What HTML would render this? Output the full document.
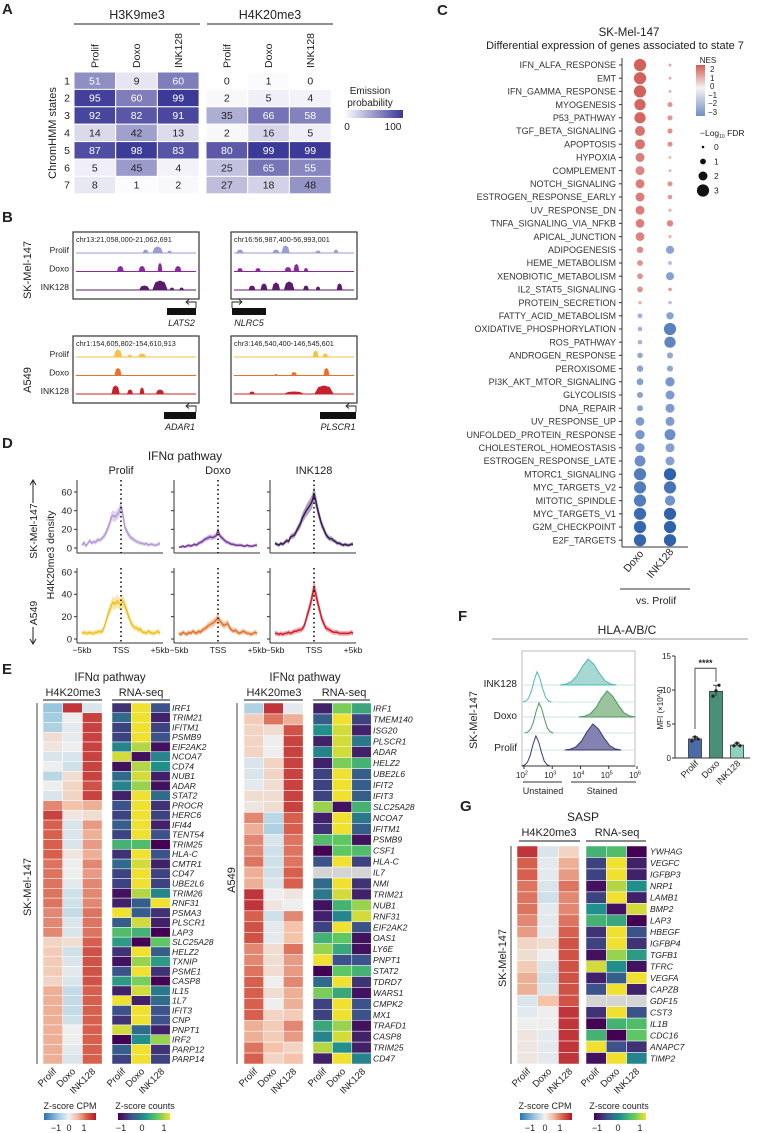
<!DOCTYPE html>
<html><head><meta charset="utf-8">
<style>
body{margin:0;background:#fff}
svg{display:block;font-family:"Liberation Sans",Arial,sans-serif;fill:#222}
</style></head>
<body>
<svg id="fig" width="776" height="1133" viewBox="0 0 776 1133" xmlns="http://www.w3.org/2000/svg">
<defs>
<linearGradient id="gPurple"><stop offset="0" stop-color="#ffffff"/><stop offset="1" stop-color="#3a3896"/></linearGradient>
<linearGradient id="gNes" x1="0" y1="0" x2="0" y2="1"><stop offset="0" stop-color="#d45a55"/><stop offset="0.45" stop-color="#f5f2f2"/><stop offset="1" stop-color="#6f8fc6"/></linearGradient>
<linearGradient id="gRdBu"><stop offset="0" stop-color="#2a73b6"/><stop offset="0.3" stop-color="#a6cfe4"/><stop offset="0.48" stop-color="#f2f2f2"/><stop offset="0.65" stop-color="#f3b79d"/><stop offset="0.82" stop-color="#d6604d"/><stop offset="1" stop-color="#b2182b"/></linearGradient>
<linearGradient id="gVir"><stop offset="0" stop-color="#440154"/><stop offset="0.25" stop-color="#3b528b"/><stop offset="0.5" stop-color="#21908c"/><stop offset="0.75" stop-color="#5dc863"/><stop offset="1" stop-color="#f0e030"/></linearGradient>
</defs>

<!-- Panel A -->
<g font-size="10">
<text x="2" y="14" font-size="15" font-weight="bold">A</text>
<text x="137" y="19" font-size="12.5" text-anchor="middle">H3K9me3</text>
<line x1="74" y1="24" x2="200" y2="24" stroke="#222"/>
<text x="270" y="19" font-size="12.5" text-anchor="middle">H4K20me3</text>
<line x1="207" y1="24" x2="333" y2="24" stroke="#222"/>
<text transform="translate(56,133) rotate(-90)" text-anchor="middle" font-size="11">ChromHMM states</text>
<text x="370" y="94" text-anchor="middle">Emission</text>
<text x="370" y="106" text-anchor="middle">probability</text>
<rect x="344" y="110" width="59" height="8" fill="url(#gPurple)"/>
<text x="347" y="130" text-anchor="middle">0</text>
<text x="393" y="130" text-anchor="middle">100</text>
<g id="gA"></g>
</g>

<!-- Panel B -->
<g>
<text x="2" y="222" font-size="15" font-weight="bold">B</text>
<text transform="translate(31,270) rotate(-90)" text-anchor="middle" font-size="11">SK-Mel-147</text>
<text transform="translate(31,380) rotate(-90)" text-anchor="middle" font-size="11">A549</text>
<g id="gB"></g>
</g>

<!-- Panel D -->
<g>
<text x="2" y="448" font-size="15" font-weight="bold">D</text>
<text x="185" y="460" font-size="12" text-anchor="middle">IFNα pathway</text>
<text x="121" y="474" font-size="11" text-anchor="middle">Prolif</text>
<text x="218" y="474" font-size="11" text-anchor="middle">Doxo</text>
<text x="314" y="474" font-size="11" text-anchor="middle">INK128</text>
<text transform="translate(54,555) rotate(-90)" text-anchor="middle" font-size="10.5">H4K20me3 density</text>
<text transform="translate(37,531) rotate(-90)" text-anchor="middle" font-size="10.5">SK-Mel-147</text>
<path d="M33,503 L33,481 M30,485 L33,480 L36,485" stroke="#222" fill="none"/>
<text transform="translate(37,613) rotate(-90)" text-anchor="middle" font-size="10.5">A549</text>
<path d="M33,627 L33,643 M30,639 L33,644 L36,639" stroke="#222" fill="none"/>
<g id="gD"></g>
</g>

<!-- Panel E -->
<g>
<text x="2" y="674" font-size="15" font-weight="bold">E</text>
<text x="110" y="681" font-size="11.5" text-anchor="middle">IFNα pathway</text>
<text x="73" y="696" font-size="11" text-anchor="middle">H4K20me3</text>
<text x="141" y="696" font-size="11" text-anchor="middle">RNA-seq</text>
<line x1="43" y1="700" x2="102" y2="700" stroke="#444" stroke-width="1.2"/>
<line x1="112" y1="700" x2="170" y2="700" stroke="#444" stroke-width="1.2"/>
<line x1="37" y1="703" x2="37" y2="1064" stroke="#444"/>
<text transform="translate(31,887) rotate(-90)" text-anchor="middle" font-size="11">SK-Mel-147</text>
<text x="305" y="681" font-size="11.5" text-anchor="middle">IFNα pathway</text>
<text x="274" y="696" font-size="11" text-anchor="middle">H4K20me3</text>
<text x="344" y="696" font-size="11" text-anchor="middle">RNA-seq</text>
<line x1="244" y1="700" x2="303" y2="700" stroke="#444" stroke-width="1.2"/>
<line x1="313" y1="700" x2="370" y2="700" stroke="#444" stroke-width="1.2"/>
<line x1="237" y1="703" x2="237" y2="1064" stroke="#444"/>
<text transform="translate(235,880) rotate(-90)" text-anchor="middle" font-size="11">A549</text>
<text x="70" y="1109" font-size="9" text-anchor="middle">Z-score CPM</text>
<rect x="44" y="1113" width="52" height="7" fill="url(#gRdBu)"/>
<text x="56" y="1131" font-size="9" text-anchor="middle">−1</text>
<text x="69" y="1131" font-size="9" text-anchor="middle">0</text>
<text x="84" y="1131" font-size="9" text-anchor="middle">1</text>
<text x="145" y="1109" font-size="9" text-anchor="middle">Z-score counts</text>
<rect x="118" y="1113" width="52" height="7" fill="url(#gVir)"/>
<text x="121" y="1131" font-size="9" text-anchor="middle">−1</text>
<text x="142" y="1131" font-size="9" text-anchor="middle">0</text>
<text x="164" y="1131" font-size="9" text-anchor="middle">1</text>
<g id="gE"></g>
</g>

<!-- Panel C -->
<g>
<text x="437" y="15" font-size="15" font-weight="bold">C</text>
<text x="629" y="36" font-size="11.5" text-anchor="middle">SK-Mel-147</text>
<text x="615" y="49" font-size="11" text-anchor="middle">Differential expression of genes associated to state 7</text>
<line x1="622" y1="58" x2="622" y2="547" stroke="#333"/>
<line x1="622" y1="547" x2="688" y2="547" stroke="#333"/>
<text transform="translate(644,554) rotate(-50)" text-anchor="end" font-size="10.5">Doxo</text>
<text transform="translate(674,552) rotate(-50)" text-anchor="end" font-size="10.5">INK128</text>
<line x1="620" y1="589" x2="690" y2="589" stroke="#333"/>
<text x="656" y="604" font-size="10.5" text-anchor="middle">vs. Prolif</text>
<text x="708" y="63" font-size="8" text-anchor="middle">NES</text>
<rect x="696" y="65" width="9" height="51" fill="url(#gNes)"/>
<g font-size="8">
<text x="710" y="72">2</text><text x="710" y="81">1</text><text x="710" y="89">0</text><text x="708" y="98">−1</text><text x="708" y="106">−2</text><text x="708" y="115">−3</text>
</g>
<text x="700" y="136" font-size="8.5">−Log<tspan font-size="5" dy="2">10</tspan><tspan dy="-2"> FDR</tspan></text>
<g id="gC"></g>
</g>

<!-- Panel F -->
<g>
<text x="458" y="621" font-size="15" font-weight="bold">F</text>
<text x="627" y="634" font-size="12" text-anchor="middle">HLA-A/B/C</text>
<line x1="492" y1="639" x2="748" y2="639" stroke="#999"/>
<rect x="522" y="651" width="113" height="115" fill="none" stroke="#bbb"/>
<text transform="translate(477,720) rotate(-90)" text-anchor="middle" font-size="11">SK-Mel-147</text>
<line x1="523" y1="782" x2="562" y2="782" stroke="#333"/>
<text x="543" y="794" font-size="9" text-anchor="middle">Unstained</text>
<line x1="571" y1="782" x2="636" y2="782" stroke="#333"/>
<text x="602" y="794" font-size="9" text-anchor="middle">Stained</text>
<text transform="translate(663,708) rotate(-90)" text-anchor="middle" font-size="8">MFI (×10^4)</text>
<g id="gF"></g>
</g>

<!-- Panel G -->
<g>
<text x="460" y="811" font-size="15" font-weight="bold">G</text>
<text x="583" y="821" font-size="12" text-anchor="middle">SASP</text>
<text x="549" y="836" font-size="11" text-anchor="middle">H4K20me3</text>
<text x="617" y="836" font-size="11" text-anchor="middle">RNA-seq</text>
<line x1="519" y1="841" x2="580" y2="841" stroke="#444" stroke-width="1.2"/>
<line x1="586" y1="841" x2="646" y2="841" stroke="#444" stroke-width="1.2"/>
<line x1="511" y1="846" x2="511" y2="1064" stroke="#444"/>
<text transform="translate(506,958) rotate(-90)" text-anchor="middle" font-size="11">SK-Mel-147</text>
<text x="545" y="1109" font-size="9" text-anchor="middle">Z-score CPM</text>
<rect x="520" y="1113" width="52" height="7" fill="url(#gRdBu)"/>
<text x="530" y="1131" font-size="9" text-anchor="middle">−1</text>
<text x="545" y="1131" font-size="9" text-anchor="middle">0</text>
<text x="560" y="1131" font-size="9" text-anchor="middle">1</text>
<text x="619" y="1109" font-size="9" text-anchor="middle">Z-score counts</text>
<rect x="594" y="1113" width="52" height="7" fill="url(#gVir)"/>
<text x="597" y="1131" font-size="9" text-anchor="middle">−1</text>
<text x="618" y="1131" font-size="9" text-anchor="middle">0</text>
<text x="640" y="1131" font-size="9" text-anchor="middle">1</text>
<g id="gG"></g>
</g>
</svg>

<script>
// ---------- DATA ----------
const aRows = ['1','2','3','4','5','6','7'];
const aCols = ['Prolif','Doxo','INK128'];
const h3k9 = [[51,9,60],[95,60,99],[92,82,91],[14,42,13],[87,98,83],[5,45,4],[8,1,2]];
const h4k20 = [[0,1,0],[2,5,4],[35,66,58],[2,16,5],[80,99,99],[25,65,55],[27,18,48]];

const cPathways = ['IFN_ALFA_RESPONSE','EMT','IFN_GAMMA_RESPONSE','MYOGENESIS','P53_PATHWAY','TGF_BETA_SIGNALING','APOPTOSIS','HYPOXIA','COMPLEMENT','NOTCH_SIGNALING','ESTROGEN_RESPONSE_EARLY','UV_RESPONSE_DN','TNFA_SIGNALING_VIA_NFKB','APICAL_JUNCTION','ADIPOGENESIS','HEME_METABOLISM','XENOBIOTIC_METABOLISM','IL2_STAT5_SIGNALING','PROTEIN_SECRETION','FATTY_ACID_METABOLISM','OXIDATIVE_PHOSPHORYLATION','ROS_PATHWAY','ANDROGEN_RESPONSE','PEROXISOME','PI3K_AKT_MTOR_SIGNALING','GLYCOLISIS','DNA_REPAIR','UV_RESPONSE_UP','UNFOLDED_PROTEIN_RESPONSE','CHOLESTEROL_HOMEOSTASIS','ESTROGEN_RESPONSE_LATE','MTORC1_SIGNALING','MYC_TARGETS_V2','MITOTIC_SPINDLE','MYC_TARGETS_V1','G2M_CHECKPOINT','E2F_TARGETS'];
const nesDoxo = [2.4,2.4,2.4,2.3,2.3,2.0,2.0,1.8,1.6,1.8,1.8,1.8,1.8,1.7,1.5,1.4,1.4,1.4,0.8,-1.2,-1.2,-1.2,-1.4,-1.5,-1.6,-1.5,-1.5,-1.7,-1.8,-1.8,-2.0,-2.4,-2.4,-2.4,-2.8,-2.9,-2.9];
const fdrDoxo = [3,3,3,2.7,2.7,2.3,2.3,2,2,2,2,2,1.9,1.9,1.2,1,1,1,0.3,0.7,0.6,0.6,0.9,1.2,1.3,1.1,1.1,1.9,2.1,2.1,2.6,3,3,3,3,3,3];
const nesInk = [1,0.9,0.9,1.3,1.3,1.4,1.4,0.8,0.8,1.3,1.2,0.8,1.6,0.8,-1.5,-0.9,-1.6,1.2,-0.9,-1.5,-2.3,-2.2,-1.4,-1.4,-1.8,-1.7,-1.7,-1.7,-2.0,-1.6,-1.6,-3,-2.6,-1.9,-3,-3,-3];
const fdrInk = [0.1,0.1,0.1,0.8,0.8,0.8,0.8,0.1,0.1,0.8,0.6,0.2,1.2,0.2,1.7,0.4,1.7,0.3,0.3,1.5,3,2.7,1.1,1.1,2.1,2,2,2,2.6,2,2,3,3,2.4,3,3,3];
const fdrLegend = [0,1,2,3];

const dYTicks = [0,20,40,60];
const skProlif = [3,6,2,5,8,5,7,6,9,8,10,12,15,20,25,33,35,33,36,38,45,36,22,18,14,11,10,8,7,6,5,5,4,5,3,4,4,3,3,4,5];
const skDoxo = [1,1,2,1,2,3,2,3,4,3,5,6,7,9,10,11,12,11,12,13,19,13,11,9,7,6,5,4,4,3,3,3,3,2,2,3,2,2,2,3,3];
const skInk = [5,4,3,5,4,6,8,7,12,13,14,18,22,26,32,36,40,43,46,50,58,50,40,32,25,20,15,12,10,10,8,7,5,5,4,3,4,3,3,4,4];
const aProlif = [5,6,5,5,6,5,5,6,6,7,6,9,14,20,25,30,33,31,34,32,31,34,30,25,20,15,12,10,10,8,9,6,6,5,7,6,5,5,6,7,5];
const aDoxo = [5,4,6,5,4,6,5,7,6,5,7,6,8,9,10,12,13,14,15,17,19,16,14,12,13,14,10,8,7,8,6,5,6,7,6,5,5,4,5,6,5];
const aInk = [5,5,4,5,4,5,5,6,5,6,7,7,8,8,9,12,18,24,30,38,46,40,32,25,18,14,10,9,8,7,6,6,6,5,5,5,5,5,5,6,5];

const eSkGenes = ['IRF1','TRIM21','IFITM1','PSMB9','EIF2AK2','NCOA7','CD74','NUB1','ADAR','STAT2','PROCR','HERC6','IFI44','TENT54','TRIM25','HLA-C','CMTR1','CD47','UBE2L6','TRIM26','RNF31','PSMA3','PLSCR1','LAP3','SLC25A28','HELZ2','TXNIP','PSME1','CASP8','IL15','1L7','IFIT3','CNP','PNPT1','IRF2','PARP12','PARP14'];
const eSkCpm = [[-0.8,1.3,-0.2],[-0.7,0,1.2],[-0.6,-0.1,1.2],[0.2,-0.1,1.2],[0.1,0,1.2],[-0.2,-0.2,1.2],[0,-0.3,1.2],[-0.5,0.2,1.2],[0,0.3,1.1],[-0.2,0.3,1.2],[0.8,0.5,0.6],[1.2,0.1,0.2],[1.0,-0.2,0.7],[1.0,-0.2,0.6],[1.0,-0.2,0.7],[1.0,0.1,0.6],[0.9,0,0.8],[0.9,0,0.7],[0.9,-0.1,0.8],[0.9,-0.3,0.8],[0.9,-0.3,0.8],[0.8,-0.4,0.9],[0.8,-0.2,0.9],[0.8,-0.2,0.9],[0.3,0.2,1.0],[0.4,-0.3,1.1],[0.4,-0.2,1.1],[0.4,-0.1,1.1],[0.3,-0.2,1.1],[0.6,-0.4,1.0],[0.6,-0.4,1.0],[0.6,-0.4,1.0],[0.6,-0.3,1.0],[0.6,0,1.0],[0.6,0,1.0],[0.6,-0.1,1.0],[0.6,-0.2,1.0]];
const eSkRna = [[-0.7,1,-0.5],[-0.3,1,-0.8],[-0.6,1,-0.6],[-0.6,1,-0.5],[-0.1,0.8,-0.9],[0.9,-0.9,-0.1],[-0.9,0.8,0],[-0.3,0.9,-0.8],[-0.1,0.7,-0.9],[-0.8,1,-0.3],[-0.5,1,-0.7],[-0.6,1,-0.6],[-0.4,1,-0.8],[-0.6,1,-0.5],[0.3,0.4,-1],[-0.7,1,-0.5],[-0.3,0.9,-0.8],[-0.6,1,-0.6],[-0.6,1,-0.6],[-0.9,0.8,-0.1],[-0.8,-0.4,1],[1,-0.4,-0.7],[-0.4,0.9,-0.8],[0.4,0.3,-1],[0.1,-1,0.5],[-0.7,1,-0.4],[-0.9,0.7,0.1],[-0.5,1,-0.7],[0.1,0.6,-1],[-0.8,0.9,-0.2],[1,-0.8,-0.3],[-0.5,1,-0.5],[-0.7,1,-0.5],[0.9,-0.3,-0.8],[-1,0,0.7],[-0.4,1,-0.7],[-0.6,1,-0.6]];
const eAGenes = ['IRF1','TMEM140','ISG20','PLSCR1','ADAR','HELZ2','UBE2L6','IFIT2','IFIT3','SLC25A28','NCOA7','IFITM1','PSMB9','CSF1','HLA-C','IL7','NMI','TRIM21','NUB1','RNF31','EIF2AK2','OAS1','LY6E','PNPT1','STAT2','TDRD7','WARS1','CMPK2','MX1','TRAFD1','CASP8','TRIM25','CD47'];
const eACpm = [[-0.6,1.3,-0.1],[0.4,0.9,0.6],[0.3,0.2,1.1],[0.3,0,1.2],[0.3,0,1.2],[-0.2,0.3,1.2],[-0.2,0.3,1.2],[-0.1,0.2,1.2],[0.2,0.2,1.2],[0.1,0.2,1.2],[0.8,-0.5,1.0],[0.6,-0.6,1.0],[0.8,-0.2,0.9],[0.8,-0.3,0.9],[0.9,-0.3,0.9],[0.6,-0.3,1.0],[0.6,-0.2,1.0],[1.3,0,0.1],[1.3,0.1,0],[1.0,-0.3,0.8],[1.1,-0.1,0.5],[1.1,-0.1,0.5],[0.8,0.2,0.9],[0.8,0.2,0.7],[0.9,0.2,0.7],[1.0,0,0.8],[1.0,0.2,0.6],[1.0,0,0.6],[1.0,0.3,0.4],[0.6,0.4,0.8],[0.6,0.4,0.7],[0.9,0.5,0.3],[1.0,0.3,0.5]];
const eARna = [[-0.8,0.6,0.2],[-0.4,1,-0.6],[0,0.9,-0.8],[-0.8,0.9,-0.2],[-0.1,0.9,-0.8],[-0.8,0.6,0.3],[-0.6,1,-0.4],[-0.6,1,-0.4],[-0.6,1,-0.4],[0.7,-0.9,0.3],[-0.8,1,-0.2],[-0.7,1,-0.4],[0.4,0.5,-0.9],[-1,0.5,0.4],[-0.5,1,-0.6],[null,null,null],[-0.3,1,-0.7],[-0.2,0.9,-0.8],[-0.9,0.3,0.7],[-0.8,-0.1,0.9],[-0.6,1,-0.5],[0.3,0.5,-0.9],[0.7,0.2,-0.9],[1,-0.5,-0.5],[-1,0.5,0.3],[-0.3,1,-0.7],[0.6,0.2,-0.9],[-0.6,1,-0.5],[-0.6,1,-0.5],[0.2,0.7,-0.9],[-0.1,0.9,-0.8],[0.8,0,-0.8],[-0.8,1,-0.1]];

const gGenes = ['YWHAG','VEGFC','IGFBP3','NRP1','LAMB1','BMP2','LAP3','HBEGF','IGFBP4','TGFB1','TFRC','VEGFA','CAPZB','GDF15','CST3','IL1B','CDC16','ANAPC7','TIMP2'];
const gCpm = [[1.3,-0.2,0.3],[1.0,-0.1,0.6],[1.0,-0.1,0.7],[0.9,-0.2,0.9],[0.9,-0.3,0.8],[0.9,-0.1,0.8],[0.8,-0.1,0.9],[0.7,-0.1,1.0],[0.3,0.2,1.1],[0.2,0,1.1],[0.4,-0.2,1.1],[0.6,-0.3,1.1],[0.6,-0.2,1.1],[-0.2,0.5,1.1],[-0.1,0,1.3],[0,0,1.3],[0.1,-0.1,1.3],[0.1,-0.1,1.3],[0.1,-0.1,1.3]];
const gRna = [[0.3,0.4,-1],[-0.6,1,-0.8],[-0.6,1,-0.8],[-0.9,0.8,0],[-0.6,1,-0.8],[0,-0.9,0.9],[0.3,0.2,-1],[-0.7,1,-0.5],[-0.6,1,-0.7],[-0.9,0.7,0.1],[0.9,0,-0.9],[-0.8,-0.4,1],[-0.5,1,-0.8],[null,null,null],[-0.7,1,-0.5],[-1,0.3,0.4],[0.3,-1,0.5],[1,-0.5,-0.7],[-0.9,1,-0.1]];

const fGroups = ['Prolif','Doxo','INK128'];
const fMeans = [2.8,9.8,1.9];
const fReps = [[2.5,3.1,2.8],[9.1,9.9,10.7],[1.8,2.2,1.8]];
const fTicks = [0,5,10,15];
const histSamples = ['INK128','Doxo','Prolif'];
const unstainedPeak = [2.46,2.53,2.42];
const stainedPeak = [4.27,4.94,4.44];
const histShape = [0,0.03,0.12,0.35,0.72,1,0.8,0.45,0.16,0.04,0];
const histDecades = [2,3,4,5,6];

// ---------- HELPERS ----------
const NS = 'http://www.w3.org/2000/svg';
function mk(tag, attrs, parent){const e=document.createElementNS(NS,tag);for(const k in attrs)e.setAttribute(k,attrs[k]);parent.appendChild(e);return e;}
function hex(h){return [parseInt(h.slice(1,3),16),parseInt(h.slice(3,5),16),parseInt(h.slice(5,7),16)];}
function interp(stops,v){
  if(v<=stops[0][0])return stops[0][1];
  if(v>=stops[stops.length-1][0])return stops[stops.length-1][1];
  for(let i=0;i<stops.length-1;i++){const a=stops[i],b=stops[i+1];if(v>=a[0]&&v<=b[0]){const t=(v-a[0])/(b[0]-a[0]);const ca=hex(a[1]),cb=hex(b[1]);return 'rgb('+ca.map((c,j)=>Math.round(c+(cb[j]-c)*t)).join(',')+')';}}
}
const purpleStops=[[0,'#ffffff'],[100,'#3a3896']];
const rdbu=[[-1.5,'#3a7ebf'],[-0.75,'#9fcbe0'],[0,'#eeeeee'],[0.5,'#f4c3a9'],[1,'#d6604d'],[1.5,'#b2182b']];
const vir=[[-1,'#440154'],[-0.5,'#3b528b'],[0,'#21908c'],[0.5,'#5dc863'],[1,'#f0e030']];
const nesStops=[[-3,'#2f62ad'],[-1.5,'#8aa3d3'],[0,'#f5f0f0'],[1,'#e8a3a0'],[2.5,'#d45a55']];

// ---------- PANEL A ----------
const gA=document.getElementById('gA');
const aBlockX=[74,206], aCellW=41.7, aRowH=17.4, aTop=72;
function aX(b,c){return aBlockX[b]+c*aCellW;}
function aY(r){return aTop+r*aRowH;}
[h3k9,h4k20].forEach((mat,b)=>{
  aCols.forEach((col,c)=>{
    const t=mk('text',{transform:'translate('+(aX(b,c)+aCellW/2+3.5)+',68) rotate(-90)','font-size':'10.5'},gA);
    t.textContent=col;
    
    
  });
  mat.forEach((row,r)=>{
    row.forEach((v,c)=>{
      const rc=mk('rect',{x:aX(b,c),y:aY(r),width:aCellW,height:aRowH,fill:interp(purpleStops,Math.pow(v/100,0.85)*100),stroke:'#fff','stroke-width':1},gA);
      
      
      const t=mk('text',{x:aX(b,c)+aCellW/2,y:aY(r)+aRowH/2+3.6,'text-anchor':'middle','font-size':'10.5',fill:v>=50?'#fff':'#222'},gA);
      t.textContent=v;
      
      
    });
  });
});
aRows.forEach((s,r)=>{
  const t=mk('text',{x:67,y:aY(r)+aRowH/2+3.6,'text-anchor':'middle','font-size':'10.5'},gA);
  t.textContent=s;
  
  
});

// ---------- PANEL B ----------
const gB=document.getElementById('gB');
const bBoxes=[
 {x:73,y:232,chr:'chr13:21,058,000-21,062,691',gene:'LATS2',bar:[167,196],dir:-1,cols:['#9b9bd6','#8a2a9a','#5a1c6a'],
  peaks:[[[0.58,.04,3],[0.68,.08,6],[0.78,.03,2]],[[0.37,.05,5],[0.55,.05,5],[0.70,.03,8],[0.85,.05,5]],[[0.57,.08,4],[0.70,.12,9],[0.80,.03,2],[0.88,.03,2]]]},
 {x:231,y:232,chr:'chr16:56,987,400-56,993,001',gene:'NLRC5',bar:[232,266],dir:1,cols:['#9b9bd6','#8a2a9a','#5a1c6a'],
  peaks:[[[0.05,.05,3],[0.35,.05,3],[0.43,.06,7],[0.70,.04,2],[0.85,.03,3]],[[0.05,.04,3],[0.2,.04,3],[0.45,.05,4],[0.52,.04,7],[0.6,.03,3]],[[0.15,.05,4],[0.25,.05,6],[0.35,.06,7],[0.46,.08,8],[0.6,.04,4],[0.7,.03,3],[0.88,.04,6]]]},
 {x:73,y:336,chr:'chr1:154,605,802-154,610,913',gene:'ADAR1',bar:[164,196],dir:-1,cols:['#f5c242','#e8702a','#c8202a'],
  peaks:[[[0.35,.06,7],[0.45,.03,2],[0.55,.06,3]],[[0.35,.05,7]],[[0.33,.06,8],[0.45,.04,4],[0.55,.03,6],[0.7,.06,4]]]},
 {x:231,y:336,chr:'chr3:146,540,400-146,545,601',gene:'PLSCR1',bar:[320,356],dir:-1,cols:['#f5c242','#e8702a','#c8202a'],
  peaks:[[[0.68,.04,6],[0.76,.04,3]],[[0.35,.02,1],[0.5,.04,3],[0.77,.04,7]],[[0.15,.04,2],[0.5,.15,2],[0.75,.15,8]]]}
];
const bTracks=['Prolif','Doxo','INK128'];
bBoxes.forEach((bx,bi)=>{
  const fr=mk('rect',{x:bx.x,y:bx.y,width:126,height:67,fill:'#fff',stroke:'#333','stroke-width':1.2},gB);
  
  
  const ct=mk('text',{x:bx.x+3,y:bx.y+10,'font-size':'7.3'},gB);
  ct.textContent=bx.chr;
  
  
  bTracks.forEach((tr,ti)=>{
    const base=bx.y+21+ti*18.5, x0=bx.x+3, w=120;
    let d='M'+x0+','+base;
    bx.peaks[ti].forEach(p=>{const c=x0+p[0]*w,hw=p[1]*w/2;d+=' L'+(c-hw)+','+base+' L'+(c-hw*0.6)+','+(base-p[2]*0.8)+' L'+c+','+(base-p[2])+' L'+(c+hw*0.6)+','+(base-p[2]*0.8)+' L'+(c+hw)+','+base;});
    d+=' L'+(x0+w)+','+base+' Z';
    const pth=mk('path',{d:d,fill:bx.cols[ti],stroke:bx.cols[ti],'stroke-width':1},gB);
    
    
    if(bi%2===0){
      const lt=mk('text',{x:69,y:base,'text-anchor':'end','font-size':'8.5'},gB);
      lt.textContent=tr;
      
      
    }
  });
  const by=bx.y+76;
  const gr=mk('rect',{x:bx.bar[0],y:by,width:bx.bar[1]-bx.bar[0],height:7,fill:'#111'},gB);
  
  
  const ax=bx.dir<0?bx.bar[1]:bx.bar[0], ex=ax+bx.dir*10;
  const ar=mk('path',{d:'M'+ax+','+by+' L'+ax+','+(by-6)+' L'+ex+','+(by-6)+' M'+(ex-bx.dir*3)+','+(by-8.5)+' L'+ex+','+(by-6)+' L'+(ex-bx.dir*3)+','+(by-3.5),fill:'none',stroke:'#222','stroke-width':0.9},gB);
  
  
  const gt=mk('text',{x:(bx.bar[0]+bx.bar[1])/2,y:by+18,'text-anchor':'middle','font-size':'9','font-style':'italic'},gB);
  gt.textContent=bx.gene;
  
  
});

// ---------- PANEL D ----------
const gD=document.getElementById('gD');
const dAxisX=[77,174,270];
const dRows=[{zero:548,scale:0.933,top:480,axis:553},{zero:639,scale:1.117,top:568,axis:643}];
const dSeries=[[skProlif,skDoxo,skInk],[aProlif,aDoxo,aInk]];
const dColors=[['#b49ad6','#7a3a9a','#3a1e4e'],['#f0c020','#e0722e','#d0202a']];
const dBand=[['#d8c8ec','#c5a8d8','#9a88b0'],['#f8e08a','#f2b890','#ec9098']];
function dX(p,i){return dAxisX[p]+5+i*(78/40);}
function dY(r,v){return dRows[r].zero-v*dRows[r].scale;}
dRows.forEach((row,r)=>{
  dAxisX.forEach((ax,p)=>{
    const yl=mk('line',{x1:ax,y1:row.top,x2:ax,y2:row.axis,stroke:'#333'},gD);
    
    
    const xl=mk('line',{x1:ax,y1:row.axis,x2:ax+86,y2:row.axis,stroke:'#333'},gD);
    
    
    dYTicks.forEach(tv=>{
      const tk=mk('line',{x1:ax-3,y1:dY(r,tv),x2:ax,y2:dY(r,tv),stroke:'#333'},gD);
      
      
      if(p===0){
        const tt=mk('text',{x:ax-5,y:dY(r,tv)+3.3,'text-anchor':'end','font-size':'9.5'},gD);
        tt.textContent=tv;
        
        
      }
    });
    const vals=dSeries[r][p];
    let up='',lo='';
    vals.forEach((v,i)=>{const e=1.5+v*0.12;up+=(i?' L':'M')+dX(p,i).toFixed(1)+','+dY(r,v+e).toFixed(1);});
    for(let i=vals.length-1;i>=0;i--){const e=1.5+vals[i]*0.12;lo+=' L'+dX(p,i).toFixed(1)+','+dY(r,Math.max(0,vals[i]-e)).toFixed(1);}
    const rb=mk('path',{d:up+lo+' Z',fill:dBand[r][p],opacity:0.8},gD);
    
    
    let d='';
    vals.forEach((v,i)=>{d+=(i?' L':'M')+dX(p,i).toFixed(1)+','+dY(r,v).toFixed(1);});
    const ln=mk('path',{d:d,fill:'none',stroke:dColors[r][p],'stroke-width':1.5,'stroke-linejoin':'round'},gD);
    
    
    const ts=mk('line',{x1:dX(p,20),y1:row.top,x2:dX(p,20),y2:row.axis,stroke:'#111','stroke-width':1.6,'stroke-dasharray':'1.5,3'},gD);
    
    
    if(r===1){
      [['−5kb',0],['TSS',20],['+5kb',40]].forEach(l=>{
        const xt=mk('text',{x:dX(p,l[1]),y:653,'text-anchor':'middle','font-size':'8.5'},gD);
        xt.textContent=l[0];
        
        
      });
    }
  });
});

// ---------- HEATMAP HELPER (E, G) ----------
function heat(parent,x0,y0,cw,rh,vals,stops,name){
  vals.forEach((row,r)=>row.forEach((v,c)=>{
    const rc=mk('rect',{x:x0+c*cw,y:y0+r*rh,width:cw,height:rh,fill:v===null?'#d4d4d4':interp(stops,v),stroke:'#fff','stroke-width':0.5},parent);
    
    
  }));
}
function genes(parent,x,y0,rh,list,name){
  list.forEach((g,i)=>{
    const t=mk('text',{x:x,y:y0+i*rh+rh/2+3,'font-size':'8.6','font-style':'italic'},parent);
    t.textContent=g;
    
    
  });
}
function colLabels(parent,xs,y,name){
  aCols.forEach((c,i)=>{
    const t=mk('text',{transform:'translate('+(xs[i]+4)+','+y+') rotate(-45)','text-anchor':'end','font-size':'9.5'},parent);
    t.textContent=c;
    
    
  });
}
// ---------- PANEL E ----------
const gE=document.getElementById('gE');
const eSkRh=361/eSkGenes.length, eARh=361/eAGenes.length;
heat(gE,43,703,19.7,eSkRh,eSkCpm,rdbu,'e-skmel-cpm-cell');
heat(gE,112,703,19.4,eSkRh,eSkRna,vir,'e-skmel-rna-cell');
genes(gE,172,703,eSkRh,eSkGenes,'e-skmel-gene-label');
heat(gE,244,703,19.7,eARh,eACpm,rdbu,'e-a549-cpm-cell');
heat(gE,313,703,19.4,eARh,eARna,vir,'e-a549-rna-cell');
genes(gE,373,703,eARh,eAGenes,'e-a549-gene-label');
colLabels(gE,[53,72,92],1072,'e-skmel-cpm-col');
colLabels(gE,[122,141,161],1072,'e-skmel-rna-col');
colLabels(gE,[254,273,293],1072,'e-a549-cpm-col');
colLabels(gE,[323,342,362],1072,'e-a549-rna-col');

// ---------- PANEL G ----------
const gG=document.getElementById('gG');
const gRh=218/gGenes.length;
heat(gG,517,846,20.7,gRh,gCpm,rdbu,'g-cpm-cell');
heat(gG,586,846,20.3,gRh,gRna,vir,'g-rna-cell');
genes(gG,650,846,gRh,gGenes,'g-gene-label');
colLabels(gG,[527,548,569],1072,'g-cpm-col');
colLabels(gG,[596,616,636],1072,'g-rna-col');

// ---------- PANEL C ----------
const gC=document.getElementById('gC');
function cY(i){return 65+i*13.2;}
const cColX=[640,670];
function cR(f){return 1.3+f*1.6;}
cPathways.forEach((p,i)=>{
  const t=mk('text',{x:616,y:cY(i)+3.2,'text-anchor':'end','font-size':'9',fill:'#333'},gC);
  t.textContent=p;
  
  
  const tk=mk('line',{x1:619,y1:cY(i),x2:622,y2:cY(i),stroke:'#333'},gC);
  
  
  [[nesDoxo,fdrDoxo],[nesInk,fdrInk]].forEach((s,k)=>{
    const c=mk('circle',{cx:cColX[k],cy:cY(i),r:cR(s[1][i]),fill:interp(nesStops,s[0][i])},gC);
    
    
  });
});
fdrLegend.forEach((f,i)=>{
  const c=mk('circle',{cx:703,cy:147+i*14.5,r:cR(f),fill:'#111'},gC);
  
  
  const t=mk('text',{x:714,y:147+i*14.5+3,'font-size':'8.5'},gC);
  t.textContent=f;
  
  
});

// ---------- PANEL F ----------
const gF=document.getElementById('gF');
const stBase=[685,717,750], unBase=[702,733,766];
const hCols=[['#4fb8b8','#a8d8d4'],['#4a9a60','#9cc49c'],['#3a3a78','#8482b0']];
function lx(l){return 524+(l-2)*28.25;}
histSamples.forEach((s,i)=>{
  [[stBase[i],'#cfe4e0'],[unBase[i],'#cfe4e0']].forEach(b=>{
    const bl=mk('line',{x1:522,y1:b[0],x2:635,y2:b[0],stroke:b[1]},gF);
    
    
  });
  let d='M'+lx(stainedPeak[i]-1)+','+stBase[i];
  histShape.forEach((h,k)=>{d+=' L'+lx(stainedPeak[i]-1+k*0.2).toFixed(1)+','+(stBase[i]-h*26).toFixed(1);});
  const sp=mk('path',{d:d+' Z',fill:hCols[i][1],stroke:hCols[i][0],'stroke-width':1},gF);
  
  
  let u='M'+lx(unstainedPeak[i]-0.5)+','+unBase[i];
  histShape.forEach((h,k)=>{u+=' L'+lx(unstainedPeak[i]-0.5+k*0.1).toFixed(1)+','+(unBase[i]-h*30).toFixed(1);});
  const up=mk('path',{d:u,fill:'none',stroke:hCols[i][0],'stroke-width':1},gF);
  
  
  const lt=mk('text',{x:517,y:[687,719,751][i],'text-anchor':'end','font-size':'10'},gF);
  lt.textContent=s;
  
  
});
histDecades.forEach(dd=>{
  const tk=mk('line',{x1:lx(dd),y1:766,x2:lx(dd),y2:769,stroke:'#333'},gF);
  
  
  const t=mk('text',{x:lx(dd)-2,y:778,'text-anchor':'middle','font-size':'8'},gF);
  t.textContent='10';
  
  
  const sup=mk('tspan',{dy:-3.5,'font-size':'5.5'},t);
  sup.textContent=dd;
});
const hax=mk('line',{x1:522,y1:766,x2:635,y2:766,stroke:'#333'},gF);


function bY(v){return 758-v*6.8;}
function bX(i){return 695+i*21;}
const fAxY=mk('line',{x1:675,y1:bY(15),x2:675,y2:bY(0),stroke:'#333'},gF);


const fAxX=mk('line',{x1:675,y1:bY(0),x2:750,y2:bY(0),stroke:'#333'},gF);


fTicks.forEach(tv=>{
  const tk=mk('line',{x1:672,y1:bY(tv),x2:675,y2:bY(tv),stroke:'#333'},gF);
  
  
  const t=mk('text',{x:671,y:bY(tv)+3,'text-anchor':'end','font-size':'8'},gF);
  t.textContent=tv;
  
  
});
const barCols=['#4a6aa8','#4a8f78','#8fd0c0'];
fGroups.forEach((g,i)=>{
  const br=mk('rect',{x:bX(i)-6.5,y:bY(fMeans[i]),width:13,height:bY(0)-bY(fMeans[i]),fill:barCols[i],stroke:'#333','stroke-width':0.8},gF);
  
  
  const mx=Math.max(...fReps[i]), mn=Math.min(...fReps[i]);
  const eb=mk('path',{d:'M'+bX(i)+','+bY(mn)+' L'+bX(i)+','+bY(mx)+' M'+(bX(i)-3)+','+bY(mx)+' L'+(bX(i)+3)+','+bY(mx),stroke:'#222','stroke-width':0.8,fill:'none'},gF);
  
  
  fReps[i].forEach((v,k)=>{
    const pt=mk('circle',{cx:bX(i)-3+k*3,cy:bY(v),r:1.6,fill:'#222'},gF);
    
    
  });
  const t=mk('text',{transform:'translate('+(bX(i)+4)+','+(bY(0)+6)+') rotate(-45)','text-anchor':'end','font-size':'9'},gF);
  t.textContent=g;
  
  
});
const brk=mk('path',{d:'M'+bX(0)+','+(bY(fMeans[0])-10)+' L'+bX(0)+','+bY(13.2)+' L'+bX(1)+','+bY(13.2)+' L'+bX(1)+','+(bY(11.2)),fill:'none',stroke:'#444','stroke-width':0.9},gF);


const stars=mk('text',{x:(bX(0)+bX(1))/2,y:bY(13.5),'text-anchor':'middle','font-size':'9','font-weight':'bold'},gF);
stars.textContent='****';


</script>
</body></html>
